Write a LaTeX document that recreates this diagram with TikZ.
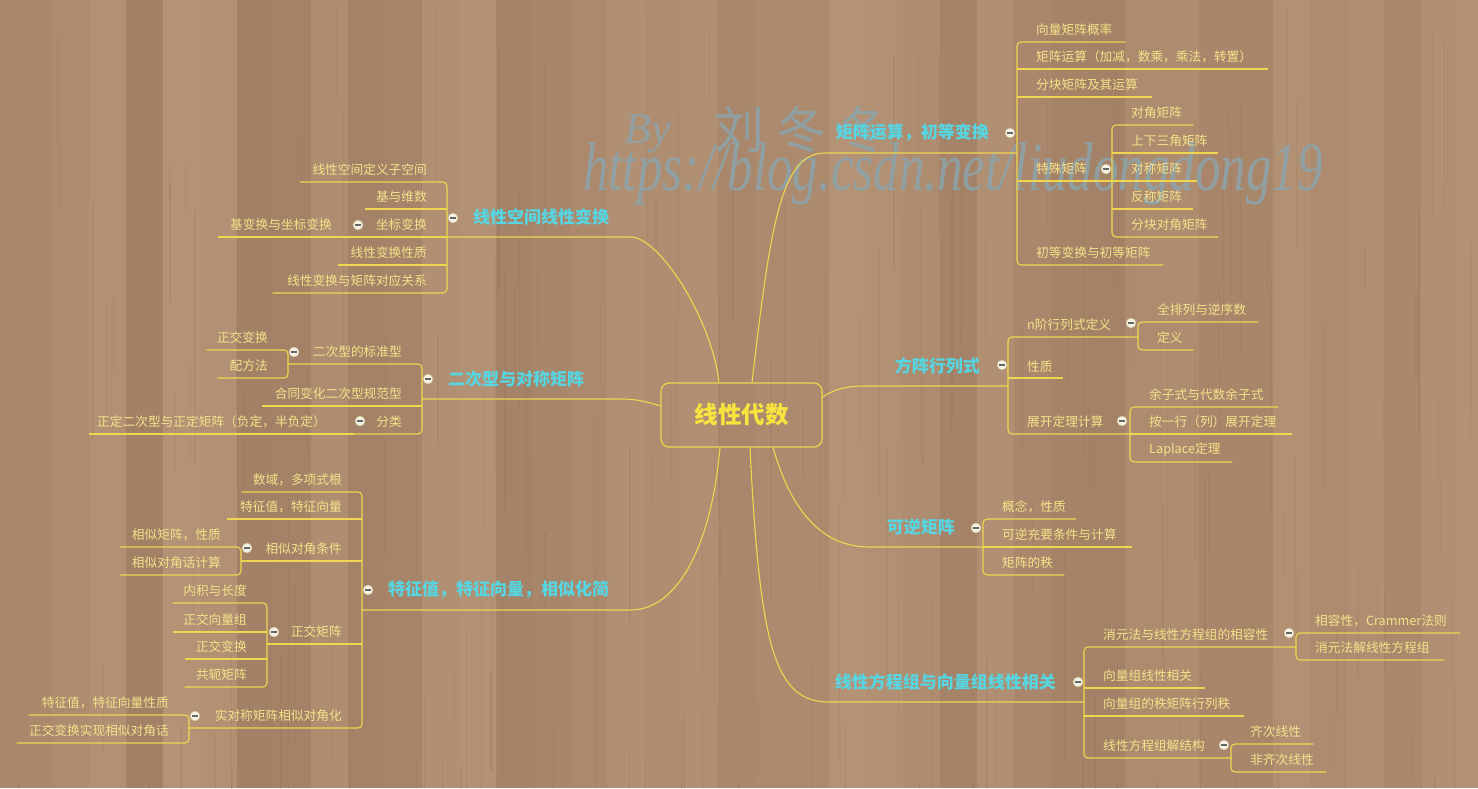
\documentclass[tikz,border=0pt]{standalone}
\usepackage{fontspec}
\usepackage{graphicx}
\setmainfont{Noto Sans CJK SC}
\newfontfamily\wmfont{Liberation Serif}
\definecolor{woodA}{RGB}{180,146,117}
\definecolor{woodB}{RGB}{163,129,102}
\definecolor{seam}{RGB}{112,84,64}
\definecolor{linec}{RGB}{240,214,78}
\definecolor{childc}{RGB}{244,226,138}
\definecolor{mainc}{RGB}{86,214,226}
\definecolor{rootc}{RGB}{248,228,62}
\definecolor{clpfill}{RGB}{246,242,228}
\definecolor{clpdraw}{RGB}{196,182,140}
\definecolor{wmc}{RGB}{140,165,172}
\tikzset{
  ln/.style={draw=linec, line width=1.1pt},
  br/.style={ln, rounded corners=4pt},
  ctext/.style={text=childc, font=\fontsize{12.7}{15}\selectfont, inner xsep=0pt, inner ysep=5.8pt},
  rc/.style={ctext, anchor=south west, text width=#1pt, align=left, execute at begin node={\noindent\kern19pt}},
  lc/.style={ctext, anchor=south east, text width=#1pt, align=right, execute at begin node={\noindent}, execute at end node={\kern20pt}},
  mtext/.style={text=mainc, font=\fontsize{17}{20}\selectfont\bfseries, inner xsep=0pt, inner ysep=11.3pt},
  rm/.style={mtext, anchor=south east, text width=#1pt, align=right, execute at begin node={\noindent}, execute at end node={\kern28pt}},
  lm/.style={mtext, anchor=south west, text width=#1pt, align=left, execute at begin node={\noindent\kern26pt}},
  clp/.style={circle, minimum size=10pt, inner sep=0pt, fill=clpfill, draw=clpdraw, line width=.6pt,
    path picture={\draw[line width=1.1pt, draw=black!60] ([xshift=-2.6pt]path picture bounding box.center) -- ([xshift=2.6pt]path picture bounding box.center);}},
  rootn/.style={draw=linec, line width=1.2pt, rounded corners=8pt, minimum width=161pt, minimum height=64pt, text=rootc, font=\fontsize{23.5}{26}\selectfont\bfseries},
  wm/.style={text=wmc, text opacity=.85, inner sep=0pt}
}
\begin{document}
\begin{tikzpicture}[x=1pt,y=-1pt]
\useasboundingbox (0,0) rectangle (1478,788);
% wooden background
\fill[woodA!55!woodB] (0,0) rectangle (1478,788);
\pgfmathsetseed{12}
\foreach \i in {0,...,40} {
  \pgfmathsetmacro\r{int(100*rnd)}
  \fill[woodA!\r!woodB] (\i*37-22,0) rectangle (\i*37+15,788);
  \draw[seam, line width=1pt, opacity=.35] (\i*37+15,0) -- (\i*37+15,788);
}
\foreach \j in {1,...,200} {
  \pgfmathsetmacro\sx{1478*rnd}
  \pgfmathsetmacro\sy{788*rnd}
  \pgfmathsetmacro\sl{40+220*rnd}
  \draw[seam, opacity=.10, line width=1.2pt] (\sx,\sy) -- ++(0,\sl);
}
% watermark
\node[wm, font=\wmfont\itshape\fontsize{51}{55}\selectfont, anchor=base west] (wmurl) at (583,190) {\scalebox{1.0}[1.35]{https://blog.csdn.net/liudongdong19}};
\node[wm, font=\wmfont\itshape\fontsize{44}{48}\selectfont, anchor=base west] (wmby) at (624,143) {By};
\node[wm, font=\fontsize{50}{54}\selectfont, anchor=base west] (wmname) at (714,148) {刘\kern12pt 冬\kern12pt 冬};

% root
\node[rootn] (root) at (741.5,415) {线性代数};

% ---------- right 1
\node[rm=192] (m1) at (1017,153) {矩阵运算，初等变换};
\node[rc=108] (m1a) at (1017,42) {向量矩阵概率};
\node[rc=251] (m1b) at (1017,69) {矩阵运算（加减，数乘，乘法，转置）};
\node[rc=135] (m1c) at (1017,97) {分块矩阵及其运算};
\node[rc=95] (m1d) at (1017,181) {特殊矩阵};
\node[rc=81] (m1d1) at (1112,125) {对角矩阵};
\node[rc=106] (m1d2) at (1112,153) {上下三角矩阵};
\node[rc=85] (m1d3) at (1112,181) {对称矩阵};
\node[rc=81] (m1d4) at (1112,209) {反称矩阵};
\node[rc=106] (m1d5) at (1112,237) {分块对角矩阵};
\node[rc=146] (m1e) at (1017,265) {初等变换与初等矩阵};
\draw[ln] ([xshift=10.5pt]root.north) .. controls (770,230) and (780,153) .. (m1.south west) -- (m1.south east);
\draw[br] (m1a.south east) -- (m1a.south west) -- (m1e.south west) -- (m1e.south east);
\foreach \n in {m1b,m1c,m1d} \draw[ln] (\n.south west) -- (\n.south east);
\draw[br] (m1d1.south east) -- (m1d1.south west) -- (m1d5.south west) -- (m1d5.south east);
\foreach \n in {m1d2,m1d3,m1d4} \draw[ln] (\n.south west) -- (\n.south east);

% ---------- right 2
\node[rm=141] (m2) at (1008,386) {方阵行列式};
\node[rc=130] (m2a) at (1008,337) {n阶行列式定义};
\node[rc=120] (m2a1) at (1138,322) {全排列与逆序数};
\node[rc=55] (m2a2) at (1138,350) {定义};
\node[rc=55] (m2b) at (1008,378) {性质};
\node[rc=122] (m2c) at (1008,434) {展开定理计算};
\node[rc=148] (m2c1) at (1130,407) {余子式与代数余子式};
\node[rc=162] (m2c2) at (1130,434) {按一行（列）展开定理};
\node[rc=102] (m2c3) at (1130,462) {Laplace定理};
\draw[ln] ([yshift=18pt]root.east) .. controls (835,389) and (845,386) .. (m2.south west) -- (m2.south east);
\draw[br] (m2a.south east) -- (m2a.south west) -- (m2c.south west) -- (m2c.south east);
\draw[ln] (m2b.south west) -- (m2b.south east);
\draw[br] (m2a1.south east) -- (m2a1.south west) -- (m2a2.south west) -- (m2a2.south east);
\draw[br] (m2c1.south east) -- (m2c1.south west) -- (m2c3.south west) -- (m2c3.south east);
\draw[ln] (m2c2.south west) -- (m2c2.south east);

% ---------- right 3
\node[rm=113] (m3) at (983,547) {可逆矩阵};
\node[rc=93] (m3a) at (983,519) {概念，性质};
\node[rc=149] (m3b) at (983,547) {可逆充要条件与计算};
\node[rc=81] (m3c) at (983,575) {矩阵的秩};
\draw[ln] ([xshift=31.5pt]root.south) .. controls (788,500) and (815,547) .. (m3.south west) -- (m3.south east);
\draw[br] (m3a.south east) -- (m3a.south west) -- (m3c.south west) -- (m3c.south east);
\draw[ln] (m3b.south west) -- (m3b.south east);

% ---------- right 4
\node[rm=254] (m4) at (1084,702) {线性方程组与向量组线性相关};
\node[rc=212] (m4a) at (1084,647) {消元法与线性方程组的相容性};
\node[rc=164] (m4a1) at (1296,633) {相容性，Crammer法则};
\node[rc=148] (m4a2) at (1296,660) {消元法解线性方程组};
\node[rc=121] (m4b) at (1084,688) {向量组线性相关};
\node[rc=160] (m4c) at (1084,716) {向量组的秩矩阵行列秩};
\node[rc=147] (m4d) at (1084,758) {线性方程组解结构};
\node[rc=82] (m4d1) at (1231,744) {齐次线性};
\node[rc=95] (m4d2) at (1231,772) {非齐次线性};
\draw[ln] ([xshift=8.5pt]root.south) .. controls (760,650) and (775,702) .. (m4.south west) -- (m4.south east);
\draw[br] (m4a.south east) -- (m4a.south west) -- (m4d.south west) -- (m4d.south east);
\foreach \n in {m4b,m4c} \draw[ln] (\n.south west) -- (\n.south east);
\draw[br] (m4a1.south east) -- (m4a1.south west) -- (m4a2.south west) -- (m4a2.south east);
\draw[br] (m4d1.south east) -- (m4d1.south west) -- (m4d2.south west) -- (m4d2.south east);

% ---------- left 1
\node[lm=183] (l1) at (447,237) {线性空间线性变换};
\node[lc=147] (l1a) at (447,182) {线性空间定义子空间};
\node[lc=82] (l1b) at (447,209) {基与维数};
\node[lc=95] (l1c) at (447,237) {坐标变换};
\node[lc=134] (l1c1) at (352,237) {基变换与坐标变换};
\node[lc=109] (l1d) at (447,265) {线性变换性质};
\node[lc=174] (l1e) at (447,293) {线性变换与矩阵对应关系};
\draw[ln] ([xshift=-22.5pt]root.north) .. controls (712,320) and (660,237) .. (l1.south east) -- (l1.south west);
\draw[br] (l1a.south west) -- (l1a.south east) -- (l1e.south east) -- (l1e.south west);
\foreach \n in {l1b,l1c,l1c1,l1d} \draw[ln] (\n.south west) -- (\n.south east);

% ---------- left 2
\node[lm=198] (l2) at (422,399) {二次型与对称矩阵};
\node[lc=134] (l2a) at (422,364) {二次型的标准型};
\node[lc=81] (l2a1) at (288,350) {正交变换};
\node[lc=70] (l2a2) at (288,378) {配方法};
\node[lc=160] (l2b) at (422,406) {合同变化二次型规范型};
\node[lc=68] (l2c) at (422,434) {分类};
\node[lc=265] (l2c1) at (354,434) {正定二次型与正定矩阵（负定，半负定）\kern8pt};
\draw[ln] ([yshift=9pt]root.west) .. controls (645,401) and (635,399) .. (l2.south east) -- (l2.south west);
\draw[br] (l2a.south west) -- (l2a.south east) -- (l2c.south east) -- (l2c.south west);
\draw[ln] (l2b.south west) -- (l2b.south east);
\draw[br] (l2a1.south west) -- (l2a1.south east) -- (l2a2.south east) -- (l2a2.south west);
\draw[ln] (l2c1.south west) -- (l2c1.south east);

% ---------- left 3
\node[lm=268] (l3) at (362,610) {特征值，特征向量，相似化简};
\node[lc=120] (l3a) at (362,492) {数域，多项式根};
\node[lc=135] (l3b) at (362,519) {特征值，特征向量};
\node[lc=121] (l3c) at (362,561) {相似对角条件};
\node[lc=121] (l3c1) at (241,547) {相似矩阵，性质};
\node[lc=121] (l3c2) at (241,575) {相似对角话计算};
\node[lc=95] (l3d) at (362,644) {正交矩阵};
\node[lc=94] (l3d1) at (267,603) {内积与长度};
\node[lc=94] (l3d2) at (267,632) {正交向量组};
\node[lc=82] (l3d3) at (267,659) {正交变换};
\node[lc=82] (l3d4) at (267,687) {共轭矩阵};
\node[lc=173] (l3e) at (362,728) {实对称矩阵相似对角化};
\node[lc=160] (l3e1) at (189,715) {特征值，特征向量性质};
\node[lc=172] (l3e2) at (189,743) {正交变换实现相似对角话};
\draw[ln] ([xshift=-21.5pt]root.south) .. controls (712,540) and (680,610) .. (l3.south east) -- (l3.south west);
\draw[br] (l3a.south west) -- (l3a.south east) -- (l3e.south east) -- (l3e.south west);
\foreach \n in {l3b,l3c,l3d,l3d2,l3d3} \draw[ln] (\n.south west) -- (\n.south east);
\draw[br] (l3c1.south west) -- (l3c1.south east) -- (l3c2.south east) -- (l3c2.south west);
\draw[br] (l3d1.south west) -- (l3d1.south east) -- (l3d4.south east) -- (l3d4.south west);
\draw[br] (l3e1.south west) -- (l3e1.south east) -- (l3e2.south east) -- (l3e2.south west);

% ---------- collapse markers
\node[clp] (k1) at (1010,133) {};
\node[clp] (k1d) at (1106,169) {};
\node[clp] (k2) at (1002,365) {};
\node[clp] (k2a) at (1131,323) {};
\node[clp] (k2c) at (1122,421) {};
\node[clp] (k3) at (976,528) {};
\node[clp] (k4) at (1078,682) {};
\node[clp] (k4a) at (1289,633) {};
\node[clp] (k4d) at (1224,745) {};
\node[clp] (q1) at (453,218) {};
\node[clp] (q1c) at (358,225) {};
\node[clp] (q2) at (428,379) {};
\node[clp] (q2a) at (294,352) {};
\node[clp] (q2c) at (360,421) {};
\node[clp] (q3) at (368,590) {};
\node[clp] (q3c) at (247,548) {};
\node[clp] (q3d) at (274,632) {};
\node[clp] (q3e) at (195,716) {};
\end{tikzpicture}
\end{document}
